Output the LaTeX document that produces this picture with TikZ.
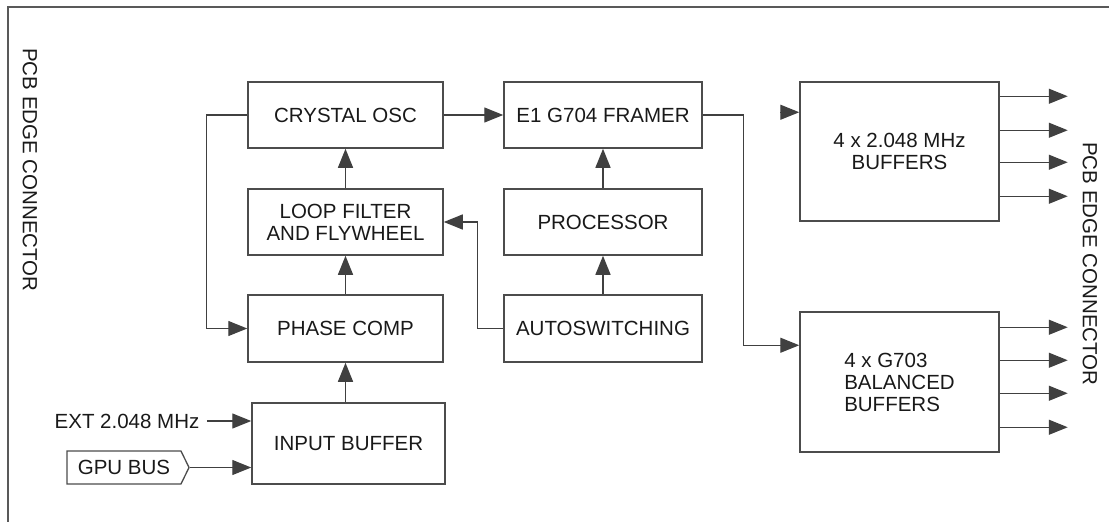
\documentclass[tikz,border=0pt]{standalone}
\usepackage{fontspec}
\setmainfont{Liberation Sans}
\usetikzlibrary{arrows.meta}
\usetikzlibrary{shapes.symbols}

\begin{document}
\begin{tikzpicture}[
    x=1pt, y=-1pt,
    every node/.style = {font=\fontsize{20.5}{22}\selectfont, text=black!90},
    block/.style = {draw=black!70, line width=1.5pt, inner sep=2pt},
    arr/.style = {draw=black!75, line width=1.3pt, -{Triangle[length=19pt,width=15pt]}},
  ]
  \useasboundingbox (0,0) rectangle (1109,522);
  \draw[black!65, line width=2pt] (8,522) -- (8,7) -- (1109,7);

  \node[rotate=-90] (edge left) at (30,170) {PCB EDGE CONNECTOR};
  \node[rotate=-90] (edge right) at (1090,264) {PCB EDGE CONNECTOR};

  \node[block, minimum width=195pt, minimum height=66pt] (xtal) at (345.5,115) {CRYSTAL OSC};
  \node[block, minimum width=195pt, minimum height=66pt, align=center] (loopf) at (345.5,222) {LOOP FILTER\\AND FLYWHEEL};
  \node[block, minimum width=195pt, minimum height=67pt] (phase) at (345.5,328.5) {PHASE COMP};
  \node[block, minimum width=193pt, minimum height=81pt] (inbuf) at (348.5,443.5) {INPUT BUFFER};

  \node[block, minimum width=198pt, minimum height=66pt] (framer) at (603,115) {E1 G704 FRAMER};
  \node[block, minimum width=198pt, minimum height=66pt] (proc) at (603,222) {PROCESSOR};
  \node[block, minimum width=198pt, minimum height=67pt] (autosw) at (603,328.5) {AUTOSWITCHING};

  \node[block, minimum width=199pt, minimum height=139pt, align=center] (bufA) at (899.5,151.5) {4 x 2.048 MHz\\BUFFERS};
  \node[block, minimum width=199pt, minimum height=140pt, align=left] (bufB) at (899.5,382) {4 x G703\\BALANCED\\BUFFERS};

  \node (ext) at (127,421) {EXT 2.048 MHz};
  \node[draw=black!70, line width=1.3pt, signal, signal to=east, signal pointer angle=128,
        minimum width=122pt, minimum height=33pt, inner sep=2pt] (gpu) at (124,467.5) {GPU BUS};

  \draw[arr] (xtal) -- (framer);
  \draw[arr] (xtal.west) -- ++(-41,0) |- (phase.west);
  \draw[arr] (loopf) -- (xtal);
  \draw[arr] (phase) -- (loopf);
  \draw[arr] (phase.south |- inbuf.north) -- (phase.south);
  \draw[arr] (autosw.west) -- ++(-26,0) |- (loopf.east);
  \draw[arr] (autosw) -- (proc);
  \draw[arr] (proc) -- (framer);

  \coordinate (bufA in) at ([yshift=-31pt]bufA.north west);
  \coordinate (bufB in) at ([yshift=-34pt]bufB.north west);
  \draw[arr] (framer.east) -- ++(41,0) |- (bufB in);
  \draw[arr] ([xshift=-19pt]bufA in) -- (bufA in);

  \foreach \dy in {15,49,81,115} {
    \coordinate (a out) at ([yshift=-\dy pt]bufA.north east);
    \draw[arr] (a out) -- ++(68,0);
  }
  \foreach \dy in {16,49,82,116} {
    \coordinate (b out) at ([yshift=-\dy pt]bufB.north east);
    \draw[arr] (b out) -- ++(68,0);
  }

  \draw[arr] ([xshift=4pt]ext.east) -- (ext.east -| inbuf.west);
  \draw[arr] (gpu.east) -- (gpu.east -| inbuf.west);
\end{tikzpicture}
\end{document}
